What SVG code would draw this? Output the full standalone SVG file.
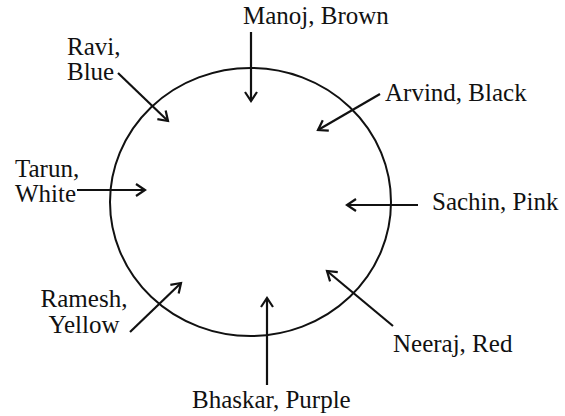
<svg xmlns="http://www.w3.org/2000/svg" width="565" height="416" viewBox="0 0 565 416">
  <style>
    .lbl { font-family: 'Liberation Serif', 'Times New Roman', serif; font-size: 25px; fill: #111; }
    .ring { fill: none; stroke: #111; stroke-width: 2; }
    .arrow { fill: none; stroke: #111; stroke-width: 2.2; marker-end: url(#head); }
  </style>
  <defs>
    <marker id="head" markerUnits="userSpaceOnUse" markerWidth="14" markerHeight="14" refX="0" refY="0" viewBox="-11 -7 13 14" orient="auto" overflow="visible">
      <path d="M-9,-6 L0,0 L-9,6" fill="none" stroke="#111" stroke-width="2.2" stroke-linejoin="miter"/>
    </marker>
  </defs>
  <rect width="565" height="416" fill="#fff"/>
  <g id="table">
    <ellipse class="ring" cx="250.5" cy="202" rx="140.5" ry="134"/>
  </g>
  <g class="lbl">
    <g id="manoj"><text x="243" y="24">Manoj, Brown</text></g>
    <g id="ravi"><text x="67" y="55">Ravi,</text><text x="67" y="80">Blue</text></g>
    <g id="tarun"><text x="15" y="177">Tarun,</text><text x="15" y="202">White</text></g>
    <g id="arvind"><text x="385" y="101">Arvind, Black</text></g>
    <g id="sachin"><text x="432" y="210">Sachin, Pink</text></g>
    <g id="ramesh"><text x="84" y="307" text-anchor="middle">Ramesh,</text><text x="84" y="333" text-anchor="middle">Yellow</text></g>
    <g id="bhaskar"><text x="192" y="408">Bhaskar, Purple</text></g>
    <g id="neeraj"><text x="393" y="352">Neeraj, Red</text></g>
  </g>
  <g id="connectors">
    <line class="arrow" x1="251" y1="32" x2="251" y2="101"/>
    <line class="arrow" x1="118" y1="73" x2="168" y2="121"/>
    <line class="arrow" x1="77" y1="190" x2="145" y2="190"/>
    <line class="arrow" x1="380" y1="94" x2="318" y2="130"/>
    <line class="arrow" x1="418" y1="205" x2="347" y2="205"/>
    <line class="arrow" x1="130" y1="332" x2="181" y2="283"/>
    <line class="arrow" x1="267" y1="385" x2="267" y2="298"/>
    <line class="arrow" x1="393" y1="326" x2="327" y2="271"/>
  </g>
</svg>
